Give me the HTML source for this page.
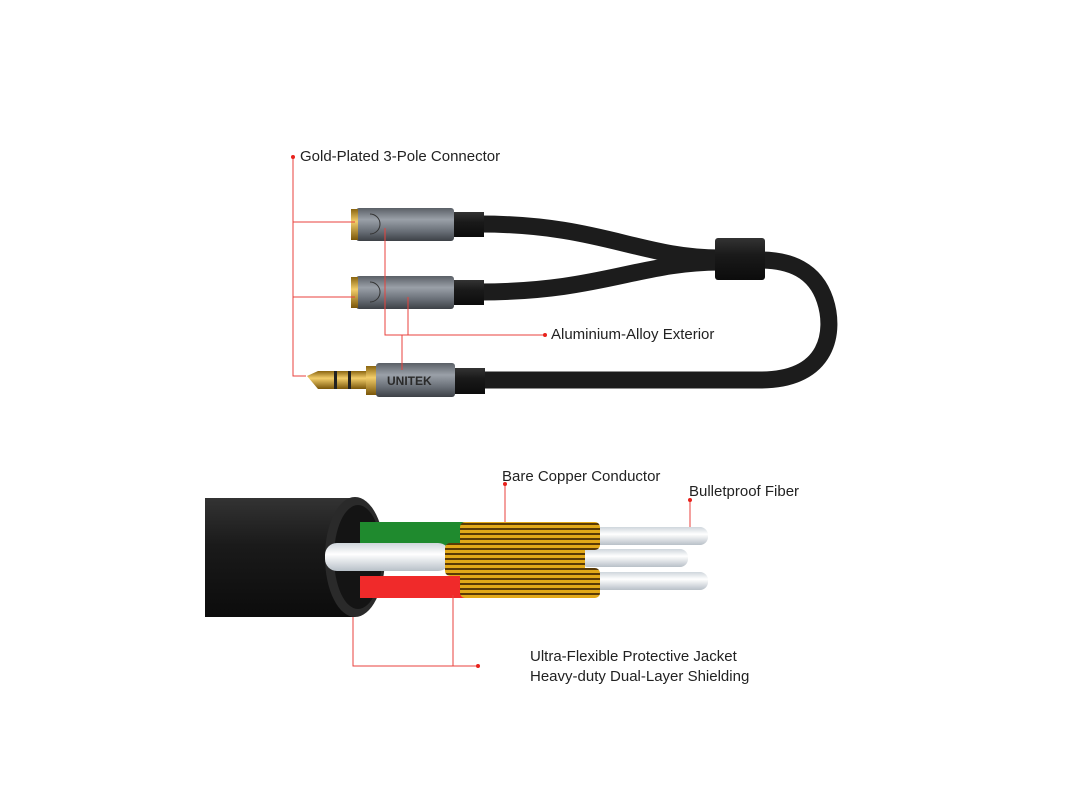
<!DOCTYPE html>
<html><head><meta charset="utf-8"><style>
html,body{margin:0;padding:0;background:#fff}
svg{display:block}
text{font-family:"Liberation Sans",sans-serif;font-size:15px;fill:#222}
</style></head><body>
<svg width="1080" height="810" viewBox="0 0 1080 810">
<defs>
<linearGradient id="alu" x1="0" y1="0" x2="0" y2="1"><stop offset="0" stop-color="#5a5f66"/><stop offset=".35" stop-color="#9aa0a8"/><stop offset=".7" stop-color="#6a7078"/><stop offset="1" stop-color="#3d4147"/></linearGradient>
<linearGradient id="gold" x1="0" y1="0" x2="0" y2="1"><stop offset="0" stop-color="#8a6510"/><stop offset=".4" stop-color="#f2cd6a"/><stop offset="1" stop-color="#7a560a"/></linearGradient>
<linearGradient id="blk" x1="0" y1="0" x2="0" y2="1"><stop offset="0" stop-color="#333"/><stop offset=".4" stop-color="#1a1a1a"/><stop offset="1" stop-color="#0c0c0c"/></linearGradient>
<pattern id="cu" width="6" height="5" patternUnits="userSpaceOnUse"><rect width="6" height="5" fill="#e2a818"/><rect y="3" width="6" height="2" fill="#5a3a05"/></pattern>
<linearGradient id="wh" x1="0" y1="0" x2="0" y2="1"><stop offset="0" stop-color="#cfd6dc"/><stop offset=".4" stop-color="#fff"/><stop offset="1" stop-color="#b8c0c8"/></linearGradient>
</defs>
<g fill="none" stroke="#1c1c1c" stroke-width="17" stroke-linecap="round">
<path d="M480 224 C600 224 640 258 720 258"/>
<path d="M480 292 C600 292 640 262 720 262"/>
<path d="M480 380 L760 380 C830 380 835 330 825 300 C815 270 790 260 760 260"/>
</g>
<rect x="715" y="238" width="50" height="42" rx="3" fill="url(#blk)"/>
<g>
<rect x="452" y="212" width="32" height="25" fill="url(#blk)"/>
<rect x="356" y="208" width="98" height="33" rx="3" fill="url(#alu)"/>
<rect x="351" y="209" width="7" height="31" fill="url(#gold)"/>
<path d="M370 214 a10 10 0 0 1 0 20" fill="none" stroke="#333"/>
<rect x="452" y="280" width="32" height="25" fill="url(#blk)"/>
<rect x="356" y="276" width="98" height="33" rx="3" fill="url(#alu)"/>
<rect x="351" y="277" width="7" height="31" fill="url(#gold)"/>
<path d="M370 282 a10 10 0 0 1 0 20" fill="none" stroke="#333"/>
</g>
<rect x="453" y="368" width="32" height="26" fill="url(#blk)"/>
<path d="M307 376 L318 371 L368 371 L368 389 L318 389 Z" fill="url(#gold)"/>
<rect x="334" y="371" width="3" height="18" fill="#222"/><rect x="348" y="371" width="3" height="18" fill="#222"/>
<rect x="366" y="366" width="12" height="29" fill="url(#gold)"/>
<rect x="376" y="363" width="79" height="34" rx="3" fill="url(#alu)"/>
<text x="387" y="385" style="font-size:12px;font-weight:bold;fill:#2a2a2a">UNITEK</text>
<g stroke="#e8423c" stroke-width="1" fill="none">
<path d="M293 157 V376 H306 M293 222 H355 M293 297 H355"/>
<path d="M385 228 V335 H545 M408 297 V335 M402 335 V370"/>
</g>
<circle cx="293" cy="157" r="2" fill="#e8221c"/><circle cx="545" cy="335" r="2" fill="#e8221c"/>
<text x="300" y="161">Gold-Plated 3-Pole Connector</text>
<text x="551" y="339">Aluminium-Alloy Exterior</text>
<rect x="205" y="498" width="150" height="119" fill="url(#blk)"/>
<ellipse cx="355" cy="557" rx="30" ry="60" fill="#2a2a2a"/>
<ellipse cx="358" cy="557" rx="24" ry="52" fill="#141414"/>
<rect x="360" y="522" width="105" height="24" fill="#1f8a2e"/>
<rect x="360" y="576" width="105" height="22" fill="#f02a2a"/>
<rect x="590" y="527" width="118" height="18" rx="8" fill="url(#wh)"/>
<rect x="580" y="549" width="108" height="18" rx="8" fill="url(#wh)"/>
<rect x="590" y="572" width="118" height="18" rx="8" fill="url(#wh)"/>
<rect x="460" y="522" width="140" height="28" rx="5" fill="url(#cu)"/>
<rect x="460" y="568" width="140" height="30" rx="5" fill="url(#cu)"/>
<rect x="325" y="543" width="125" height="28" rx="12" fill="url(#wh)"/>
<rect x="445" y="543" width="140" height="33" rx="5" fill="url(#cu)"/>
<g stroke="#e8423c" stroke-width="1" fill="none">
<path d="M505 484 V522 M690 500 V527 M353 617 V666 H478 M453 595 V666"/>
</g>
<circle cx="505" cy="484" r="2" fill="#e8221c"/><circle cx="690" cy="500" r="2" fill="#e8221c"/><circle cx="478" cy="666" r="2" fill="#e8221c"/>
<text x="502" y="481">Bare Copper Conductor</text>
<text x="689" y="496">Bulletproof Fiber</text>
<text x="530" y="661">Ultra-Flexible Protective Jacket</text>
<text x="530" y="681">Heavy-duty Dual-Layer Shielding</text>
</svg>
</body></html>
